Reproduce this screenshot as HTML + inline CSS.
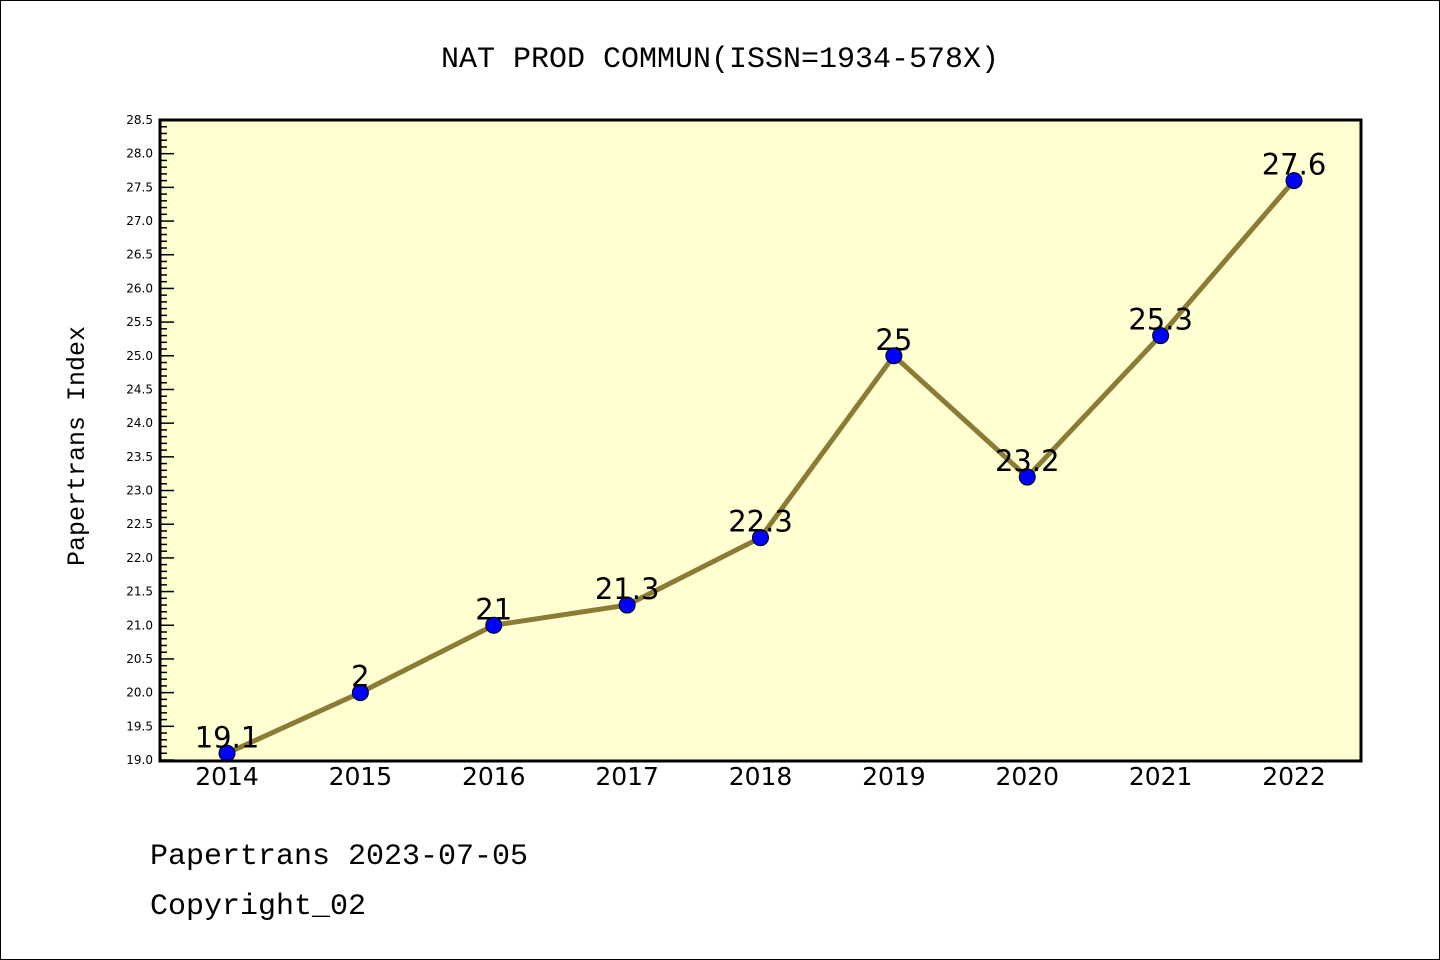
<!DOCTYPE html>
<html><head><meta charset="utf-8"><style>
html,body{margin:0;padding:0;background:#fff}
svg{display:block;font-family:"Liberation Mono","DejaVu Sans Mono",monospace}
</style></head><body>
<svg id="chart" width="1440" height="960">
<rect x="0.5" y="0.5" width="1439" height="959" fill="#fff" stroke="#000"/>
<text x="720" y="67" text-anchor="middle" font-size="30">NAT PROD COMMUN(ISSN=1934-578X)</text>
<rect x="160" y="120" width="1201" height="641" fill="#ffffd2"/>
<g id="axes"></g>
<g id="series"></g>
<rect x="160" y="120" width="1201" height="641" fill="none" stroke="#000" stroke-width="3"/>
<text transform="translate(84,446) rotate(-90)" text-anchor="middle" font-size="25">Papertrans Index</text>
<text x="150" y="864" font-size="30">Papertrans 2023-07-05</text>
<text x="150" y="914" font-size="30">Copyright_02</text>
</svg>
<script>
const categories=["2014","2015","2016","2017","2018","2019","2020","2021","2022"];
const values=[19.1,20,21,21.3,22.3,25,23.2,25.3,27.6];
const valueLabels=["19.1","2","21","21.3","22.3","25","23.2","25.3","27.6"];
const yTicks=["19.0","19.5","20.0","20.5","21.0","21.5","22.0","22.5","23.0","23.5","24.0","24.5","25.0","25.5","26.0","26.5","27.0","27.5","28.0","28.5"];
const yMin=19,yMax=28.5,plotTop=120,plotBot=760;
const NS="http://www.w3.org/2000/svg";
function y(v){return plotBot-(v-yMin)/(yMax-yMin)*(plotBot-plotTop);}
function x(i){return 227+i*(1294-227)/(categories.length-1);}
function mk(t,a,p){const e=document.createElementNS(NS,t);for(const k in a)e.setAttribute(k,a[k]);p.appendChild(e);return e;}
const ax=document.getElementById('axes'),se=document.getElementById('series');
for(let k=0;k<=Math.round((yMax-yMin)*10);k++){
 const v=yMin+k/10,yy=y(v),major=k%5===0;
 const l=mk('line',{x1:160,x2:160+(major?14:7),y1:yy,y2:yy,stroke:'#000','stroke-width':1.5},ax);
 
 
}
yTicks.forEach(t=>{const e=mk('text',{x:153,y:y(parseFloat(t))+4,'text-anchor':'end','font-size':12,'font-family':'DejaVu Sans, sans-serif'},ax);e.textContent=t;
 
 });
categories.forEach((c,i)=>{const e=mk('text',{x:x(i),y:785,'text-anchor':'middle','font-size':25,'font-family':'DejaVu Sans, sans-serif'},ax);e.textContent=c;
 
 });
const pl=mk('polyline',{points:values.map((v,i)=>x(i)+','+y(v)).join(' '),fill:'none',stroke:'#8b7b35','stroke-width':5},se);


values.forEach((v,i)=>{
 const c=mk('circle',{cx:x(i),cy:y(v),r:8,fill:'#0000ff',stroke:'#000','stroke-width':1},se);
 
 
 const t=mk('text',{x:x(i),y:y(v)-6,'text-anchor':'middle','font-size':29,'font-family':'DejaVu Sans, sans-serif'},se);
 t.textContent=valueLabels[i];
 
 
});
</script>
</body></html>
